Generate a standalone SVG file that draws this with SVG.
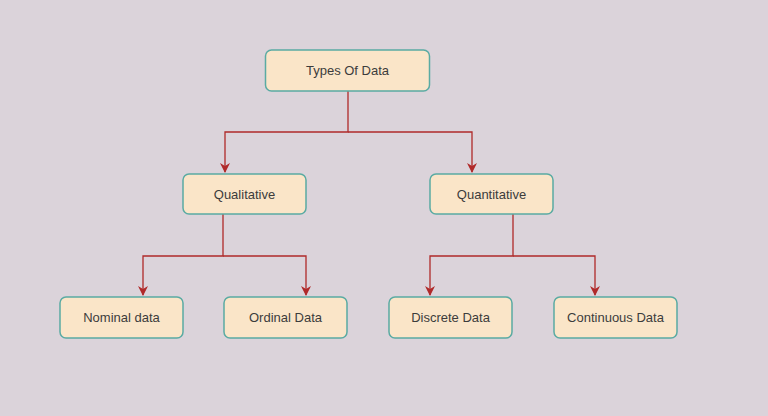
<svg xmlns="http://www.w3.org/2000/svg" width="768" height="416" viewBox="0 0 768 416">
<style>
.n rect{fill:#fae5c8;stroke:#5aaba3;stroke-width:1.5}
.n text{font-family:"Liberation Sans",Arial,sans-serif;font-size:13px;fill:#3c3c3c;text-anchor:middle;dominant-baseline:central}
.e path{fill:none;stroke:#b02a2a;stroke-width:1.3}
</style>
<defs><marker id="a" viewBox="0 0 10 10" refX="9" refY="5" markerWidth="10" markerHeight="10" markerUnits="userSpaceOnUse" orient="auto"><path d="M0,0L10,5L0,10L3,5z" fill="#b02a2a"/></marker></defs>
<rect width="768" height="416" fill="#dbd3da"/>
<g class="e">
<path d="M348,91V132H225V172" marker-end="url(#a)"/>
<path d="M348,132H472V172" marker-end="url(#a)"/>
<path d="M223,214V256H143V295" marker-end="url(#a)"/>
<path d="M223,256H306V295" marker-end="url(#a)"/>
<path d="M513,214V256H430V295" marker-end="url(#a)"/>
<path d="M513,256H595V295" marker-end="url(#a)"/>
</g>
<g id="types" class="n"><rect x="265.5" y="50" width="164" height="41" rx="6"/><text x="347.5" y="70.5">Types Of Data</text></g>
<g id="qual" class="n"><rect x="183" y="174" width="123" height="40" rx="6"/><text x="244.5" y="194">Qualitative</text></g>
<g id="quant" class="n"><rect x="430" y="174" width="123" height="40" rx="6"/><text x="491.5" y="194">Quantitative</text></g>
<g id="nominal" class="n"><rect x="60" y="297" width="123" height="41" rx="6"/><text x="121.5" y="317.5">Nominal data</text></g>
<g id="ordinal" class="n"><rect x="224" y="297" width="123" height="41" rx="6"/><text x="285.5" y="317.5">Ordinal Data</text></g>
<g id="discrete" class="n"><rect x="389" y="297" width="123" height="41" rx="6"/><text x="450.5" y="317.5">Discrete Data</text></g>
<g id="continuous" class="n"><rect x="554" y="297" width="123" height="41" rx="6"/><text x="615.5" y="317.5">Continuous Data</text></g>
</svg>
